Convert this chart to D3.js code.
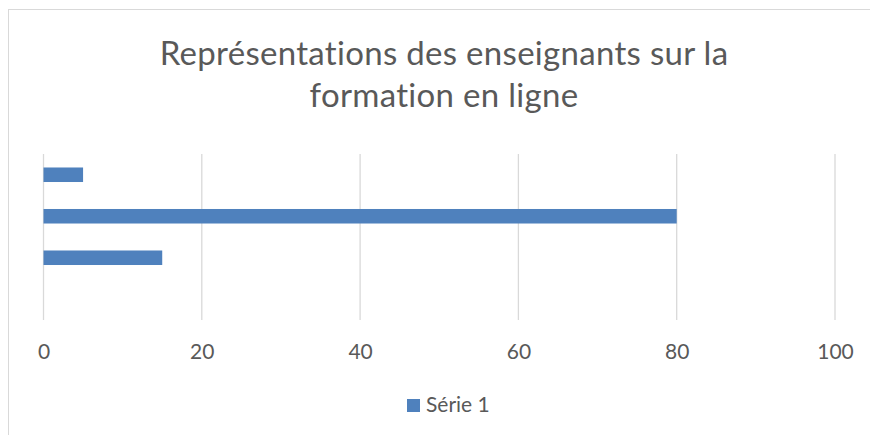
<!DOCTYPE html>
<html>
<head>
<meta charset="utf-8">
<script src="https://cdn.jsdelivr.net/npm/d3@7"></script>
<style>
  body { margin: 0; background: #fff; }
  text { font-family: Lato, "Open Sans", sans-serif; fill: #595959; }
</style>
</head>
<body>
<div id="chart"></div>
<script>
// Data (categories drawn bottom to top, like Excel)
var categories = ["Cat 1", "Cat 2", "Cat 3", "Cat 4"];
var values = [null, 15, 80, 5];
var xTicks = [0, 20, 40, 60, 80, 100];
var seriesName = "Série 1";
var titleLines = ["Représentations des enseignants sur la", "formation en ligne"];

var svgWidth = 870;
var svgHeight = 435;

var plot = { left: 43.5, right: 835, top: 154, bottom: 320 };

var svg = d3.select("#chart")
  .append("svg")
  .attr("width", svgWidth)
  .attr("height", svgHeight);

// chart border
svg.append("rect")
  .attr("x", 8.5)
  .attr("y", 9.5)
  .attr("width", 880)
  .attr("height", 450)
  .attr("fill", "none")
  .attr("stroke", "#d9d9d9")
  .attr("stroke-width", 1);

// title
svg.append("g").selectAll("text")
  .data(titleLines)
  .enter()
  .append("text")
  .attr("x", 444)
  .attr("y", (d, i) => 65 + i * 42)
  .attr("text-anchor", "middle")
  .attr("font-size", "33px")
  .attr("font-weight", 400)
  .attr("letter-spacing", "0.3px")
  .text(d => d);

var xScale = d3.scaleLinear().domain([0, 100]).range([plot.left, plot.right]);
var yScale = d3.scaleBand()
  .domain(categories.slice().reverse())
  .range([plot.top, plot.bottom])
  .paddingInner(0.65)
  .paddingOuter(0.325);

// gridlines
svg.append("g").selectAll("line")
  .data(xTicks)
  .enter()
  .append("line")
  .attr("x1", d => xScale(d))
  .attr("x2", d => xScale(d))
  .attr("y1", plot.top)
  .attr("y2", plot.bottom)
  .attr("stroke", "#d9d9d9")
  .attr("stroke-width", 1.3);

// bars
var barData = categories.map((c, i) => ({ cat: c, value: values[i] }))
  .filter(d => d.value != null);

svg.append("g").selectAll("rect")
  .data(barData)
  .enter()
  .append("rect")
  .attr("x", xScale(0))
  .attr("y", d => yScale(d.cat))
  .attr("width", d => xScale(d.value) - xScale(0))
  .attr("height", yScale.bandwidth())
  .attr("fill", "#4f81bd");

// x axis labels
var xAxis = d3.axisBottom(xScale).tickValues(xTicks).tickSize(0).tickPadding(0);
var axisG = svg.append("g")
  .attr("transform", `translate(0, ${plot.bottom + 39})`)
  .call(xAxis);
axisG.select(".domain").remove();
axisG.selectAll("text")
  .attr("dy", 0)
  .attr("font-size", "21px")
  .style("font-family", "Lato, 'Open Sans', sans-serif")
  .attr("fill", "#595959");

// legend
var legend = svg.append("g");
legend.append("rect")
  .attr("x", 407)
  .attr("y", 399)
  .attr("width", 13)
  .attr("height", 13)
  .attr("fill", "#4f81bd");
legend.append("text")
  .attr("x", 426)
  .attr("y", 412)
  .attr("font-size", "21px")
  .text(seriesName);
</script>
</body>
</html>
